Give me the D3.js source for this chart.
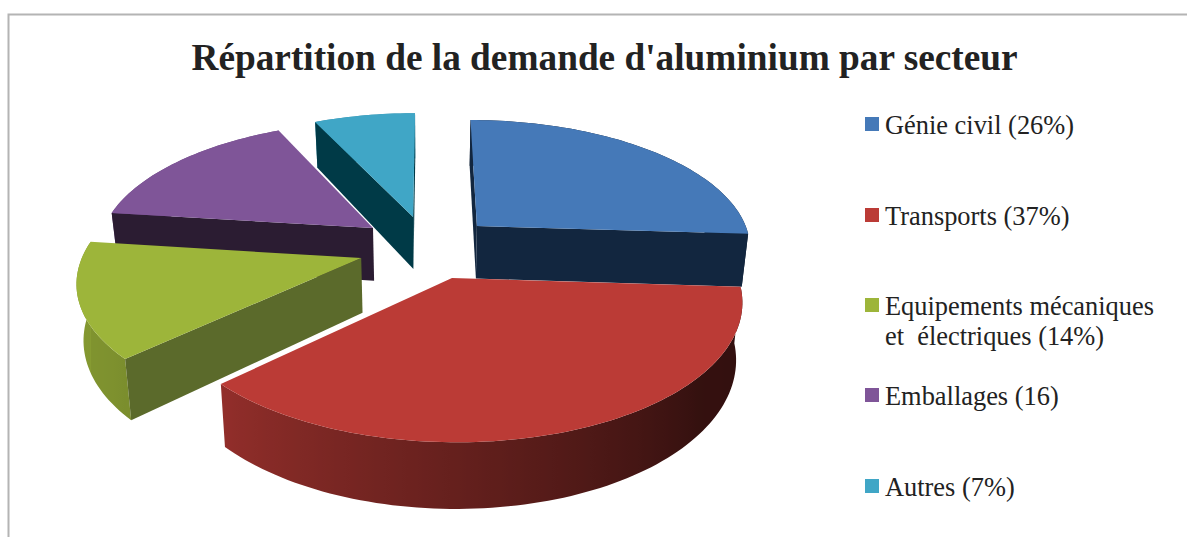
<!DOCTYPE html>
<html>
<head>
<meta charset="utf-8">
<script src="https://cdn.jsdelivr.net/npm/d3@7"></script>
<style>
html, body { margin: 0; padding: 0; background: #fff; overflow: hidden; }
svg { display: block; }
</style>
</head>
<body>
<div id="chart"></div>
<script>
// data
var categories = ["Génie civil", "Transports", "Equipements mécaniques et électriques", "Emballages", "Autres"];
var values = [26, 37, 14, 16, 7];
var legendLabels = [
  ["Génie civil (26%)"],
  ["Transports (37%)"],
  ["Equipements mécaniques", "et \u00a0électriques (14%)"],
  ["Emballages (16)"],
  ["Autres (7%)"]
];
var title = "Répartition de la demande d'aluminium par secteur";
var colors = ["#4579b8", "#bb3b36", "#9db53a", "#7f5598", "#40a6c6"];
var cutColors = ["#12263f", "#3b1c1a", "#5b6a2b", "#2b1c32", "#003a47"];

var w = 1187, h = 537;

// perspective of the pie plane
var vx = 428, a = 24, cy = 278;
var R = 286, Rt = 138, p = 0.16, depth = 56, shrink = 0.98;

// how far each slice is pulled out of the pie (in radii), then paint order back to front
var explode = [[0.098, -0.401], [0, 0], [-0.323, -0.148], [-0.288, -0.384], [-0.14, -0.476]];
var paintOrder = [4, 3, 0, 2, 1];

function project(X, Y, z) {
  var s = 1 / (1 - p * Y);
  var k = z ? shrink : 1;
  return [vx + (a + X * R) * s * k, cy + Rt * Y * s + z * depth * s];
}

var svg = d3.select("#chart").append("svg").attr("width", w).attr("height", h);
var defs = svg.append("defs");

// frame, only top and left show
svg.append("path")
  .attr("d", "M8.5,537V14.5H1187")
  .attr("fill", "none")
  .attr("stroke", "#b4b4b4")
  .attr("stroke-width", 2);

svg.append("text")
  .text(title)
  .attr("x", 604.5)
  .attr("y", 70)
  .attr("text-anchor", "middle")
  .attr("font-family", "Liberation Serif")
  .attr("font-weight", "bold")
  .attr("font-size", "37.3px")
  .attr("fill", "#222");

var arcs = d3.pie().sort(null)(values);
var line = d3.line();
var pieG = svg.append("g");

// how dark the outer wall gets, by angle
var wallShade = d3.scaleLinear().domain([90, 130, 180, 230, 280]).range([0.74, 0.72, 0.46, 0.2, 0.14]).clamp(true);

paintOrder.forEach(function (i) {
  var d = arcs[i];
  var ox = explode[i][0], oy = explode[i][1];
  var g = pieG.append("g").attr("class", "slice");

  function pt(t, z) {
    return project(ox + Math.sin(t), oy - Math.cos(t), z);
  }
  var apex0 = project(ox, oy, 0), apex1 = project(ox, oy, 1);
  var steps = d3.range(d.startAngle, d.endAngle, 0.025).concat([d.endAngle]);

  // outer wall, shaded left to right with a gradient following the angle
  var topArc = steps.map(function (t) { return pt(t, 0); });
  var botArc = steps.map(function (t) { return pt(t, 1); }).reverse();
  var xExt = d3.extent(topArc.concat(botArc), function (q) { return q[0]; });
  var xPos = d3.scaleLinear().domain(xExt).range([0, 100]);
  var stops = steps.map(function (t) {
    return {
      off: xPos(pt(t, 0)[0]),
      col: d3.interpolateRgb(colors[i], "#000")(wallShade(t * 180 / Math.PI))
    };
  }).sort(function (s1, s2) { return s1.off - s2.off; });

  defs.append("linearGradient")
    .attr("id", "wall" + i)
    .attr("gradientUnits", "userSpaceOnUse")
    .attr("x1", xExt[0]).attr("x2", xExt[1])
    .attr("y1", 0).attr("y2", 0)
    .selectAll("stop")
    .data(stops)
    .enter()
    .append("stop")
    .attr("offset", function (s) { return s.off + "%"; })
    .attr("stop-color", function (s) { return s.col; });

  g.append("path")
    .attr("d", line(topArc.concat(botArc)) + "Z")
    .attr("fill", "url(#wall" + i + ")");

  // the cut faces, only the ones turned to the viewer
  // (d3.polygonArea is positive when the points run this way round on screen)
  var startFace = [apex0, pt(d.startAngle, 0), pt(d.startAngle, 1), apex1];
  var endFace = [apex0, pt(d.endAngle, 0), pt(d.endAngle, 1), apex1];
  if (d3.polygonArea(startFace) > 0) {
    g.append("path").attr("d", line(startFace) + "Z").attr("fill", cutColors[i]);
  }
  if (d3.polygonArea(endFace) < 0) {
    g.append("path").attr("d", line(endFace) + "Z").attr("fill", cutColors[i]);
  }

  // top of the slice
  g.append("path")
    .attr("class", "top")
    .attr("d", line([apex0].concat(topArc)) + "Z")
    .attr("fill", colors[i]);
});

// legend
var legendColor = d3.scaleOrdinal().domain(categories).range(colors);
var rowY = [117, 208, 298, 388, 479];
var legend = svg.selectAll("g.legend")
  .data(categories)
  .enter()
  .append("g")
  .attr("class", "legend")
  .attr("transform", function (d, i) { return "translate(865," + rowY[i] + ")"; });

legend.append("rect")
  .attr("width", 14)
  .attr("height", 14)
  .attr("fill", function (d) { return legendColor(d); });

legend.each(function (d, i) {
  d3.select(this).selectAll("text")
    .data(legendLabels[i])
    .enter()
    .append("text")
    .text(function (t) { return t; })
    .attr("x", 20)
    .attr("y", function (t, k) { return 17 + k * 30; })
    .attr("font-family", "Liberation Serif")
    .attr("font-size", "26.4px")
    .attr("fill", "#222");
});
</script>
</body>
</html>
